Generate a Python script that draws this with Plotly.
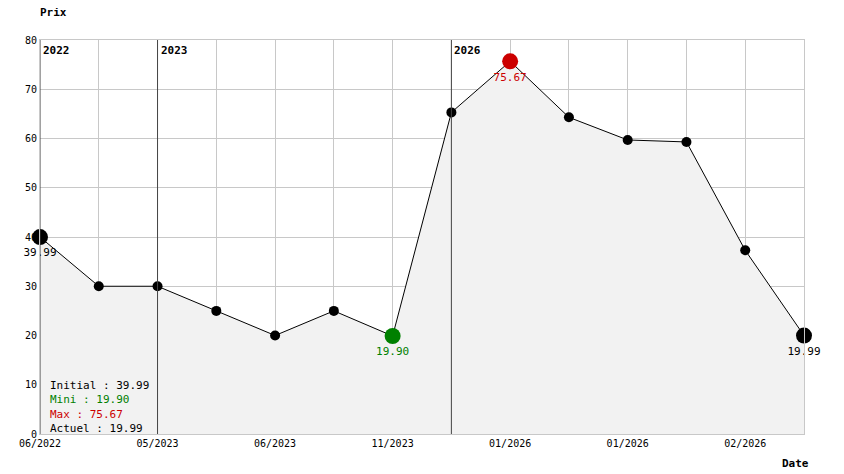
import plotly.graph_objects as go

# Data
dates = ["06/2022", "", "05/2023", "", "06/2023", "", "11/2023", "", "01/2026", "", "01/2026", "", "02/2026", ""]
prices = [39.99, 30, 30, 25, 20, 25, 19.90, 65.3, 75.67, 64.3, 59.7, 59.3, 37.3, 19.99]
years = ["2022", "2023", "2026"]
year_idx = [0, 2, 7]

x = list(range(len(prices)))
font = "DejaVu Sans Mono"

fig = go.Figure()
fig.add_trace(go.Scatter(
    x=x, y=prices, mode="lines+markers",
    line=dict(color="black", width=1),
    marker=dict(color="black", size=10),
    fill="tozeroy", fillcolor="#f2f2f2",
    cliponaxis=False, showlegend=False,
))

# highlighted points: initial, min, max, current
i_min = prices.index(min(prices))
i_max = prices.index(max(prices))
special = [(0, "black", "39.99"),
           (i_min, "green", "%.2f" % prices[i_min]),
           (i_max, "#cc0000", "%.2f" % prices[i_max]),
           (len(prices) - 1, "black", "19.99")]
for i, c, t in special:
    fig.add_trace(go.Scatter(
        x=[i], y=[prices[i]], mode="markers+text", text=[t], textposition="bottom center",
        marker=dict(color=c, size=16), textfont=dict(color=c, size=11, family=font),
        cliponaxis=False, showlegend=False,
    ))

for yr, i in zip(years, year_idx):
    fig.add_shape(type="line", x0=i, x1=i, y0=0, y1=80, line=dict(color="#444", width=1))
    fig.add_annotation(x=i, y=80, text="<b>%s</b>" % yr, showarrow=False,
                       xanchor="left", yanchor="top", yshift=-2, xshift=1,
                       font=dict(size=11, family=font, color="black"))

summary = [("Initial : 39.99", "black"), ("Mini : 19.90", "green"),
           ("Max : 75.67", "#cc0000"), ("Actuel : 19.99", "black")]
for k, (t, c) in enumerate(summary):
    fig.add_annotation(xref="paper", yref="paper", x=0.011, y=0.124 - k * 0.0368, text=t,
                       showarrow=False, xanchor="left", yanchor="middle",
                       font=dict(size=11, family=font, color=c))

fig.add_annotation(xref="paper", yref="paper", x=-0.003, y=1.071, text="<b>Prix</b>",
                   showarrow=False, xanchor="left", yanchor="middle",
                   font=dict(size=11, family=font, color="black"))
fig.add_annotation(xref="paper", yref="paper", x=1.009, y=-0.074, text="<b>Date</b>",
                   showarrow=False, xanchor="right", yanchor="middle",
                   font=dict(size=11, family=font, color="black"))

fig.update_xaxes(range=[0, 13], tickvals=x, ticktext=dates, showgrid=True,
                 gridcolor="#c8c8c8", zeroline=False, showline=True, linecolor="#c8c8c8",
                 mirror=True, tickfont=dict(size=10, family=font, color="black"))
fig.update_yaxes(range=[0, 80], dtick=10, showgrid=True, gridcolor="#c8c8c8",
                 zeroline=False, showline=True, linecolor="#c8c8c8", mirror=True,
                 tickfont=dict(size=10, family=font, color="black"))
fig.update_layout(width=844, height=474, margin=dict(l=32, r=48, t=32, b=48),
                  plot_bgcolor="white", paper_bgcolor="white")
fig.write_html("out.html")
